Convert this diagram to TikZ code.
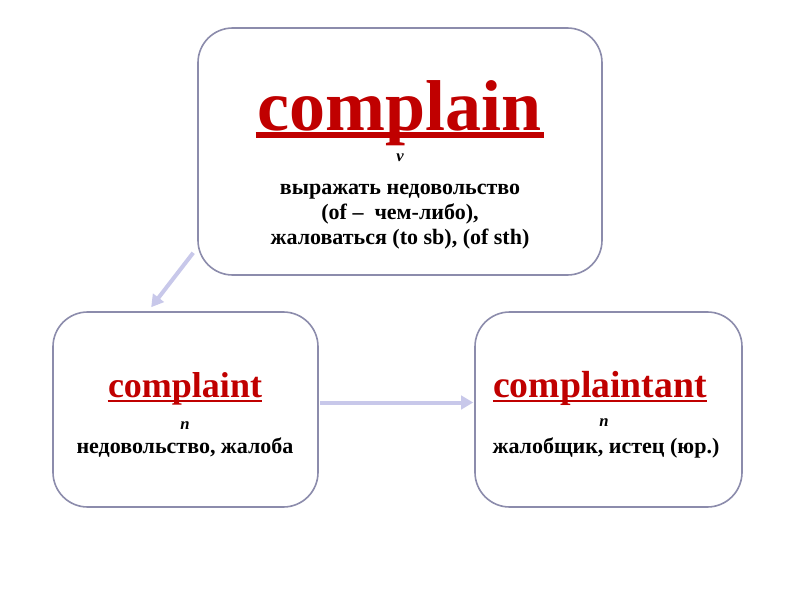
\documentclass[tikz,border=0pt]{standalone}
\usepackage{fontspec}
\setmainfont{Liberation Serif}
\usetikzlibrary{calc,arrows.meta}
\definecolor{boxline}{RGB}{140,140,172}
\definecolor{arrowc}{RGB}{200,200,234}
\definecolor{wordred}{RGB}{192,0,0}
\tikzset{
  box/.style={draw=boxline, line width=1.2pt, rounded corners=26pt, fill=white, inner sep=0pt},
  bigword/.style={anchor=base, inner sep=0pt, text=wordred, font=\bfseries\fontsize{54pt}{60pt}\selectfont},
  midword/.style={anchor=base, inner sep=0pt, text=wordred, font=\bfseries\fontsize{27pt}{30pt}\selectfont},
  gloss/.style={anchor=base, inner sep=0pt, font=\bfseries\fontsize{16.5pt}{19pt}\selectfont},
  poslabel/.style={anchor=base, inner sep=0pt, font=\bfseries\itshape\fontsize{12.5pt}{15pt}\selectfont},
  conn/.style={draw=arrowc, line width=3pt, -{Triangle[length=9pt,width=10pt]}}
}
\begin{document}
\begin{tikzpicture}[x=0.75pt,y=-0.75pt]
\useasboundingbox[fill=white] (0,0) rectangle (800,600);
% boxes
\node[box, minimum width=404*0.75pt, minimum height=247*0.75pt] (top) at (400,151.5) {};
\node[box, minimum width=265*0.75pt, minimum height=195*0.75pt] (left) at (185.5,409.5) {};
\node[box, minimum width=267*0.75pt, minimum height=195*0.75pt] (right) at (608.5,409.5) {};
% top texts
\node[bigword] (w1) at (400,130) {complain};
\draw[wordred, line width=3.8pt] ($(w1.base west)+(-2,5)$) -- ($(w1.base east)+(2,5)$);
\node[poslabel] (p1) at (400,161) {v};
\node[gloss] (g11) at (400,194) {выражать недовольство};
\node[gloss] (g12) at (400,219) {(of –\ \ чем-либо),};
\node[gloss] (g13) at (400,244) {жаловаться (to sb), (of sth)};
% left texts
\node[midword] (w2) at (185,397) {complaint};
\draw[wordred, line width=1.8pt] ($(w2.base west)+(0,4)$) -- ($(w2.base east)+(0,4)$);
\node[poslabel] (p2) at (185,429) {n};
\node[gloss] (g2) at (185,453) {недовольство, жалоба};
% right texts
\node[midword, font=\bfseries\fontsize{28.3pt}{30pt}\selectfont] (w3) at (600,397) {complaintant};
\draw[wordred, line width=1.8pt] ($(w3.base west)+(0,4)$) -- ($(w3.base east)+(0,4)$);
\node[poslabel] (p3) at (604,426) {n};
\node[gloss] (g3) at (606,453) {жалобщик, истец (юр.)};
% connectors
\draw[conn] ($(top.south west)+(-4,-23)$) -- ($(left.north west)+(99,-4)$);
\draw[conn] ($(left.east)+(1,-7)$) -- ($(right.west)+(-1,-7)$);
\end{tikzpicture}
\end{document}
